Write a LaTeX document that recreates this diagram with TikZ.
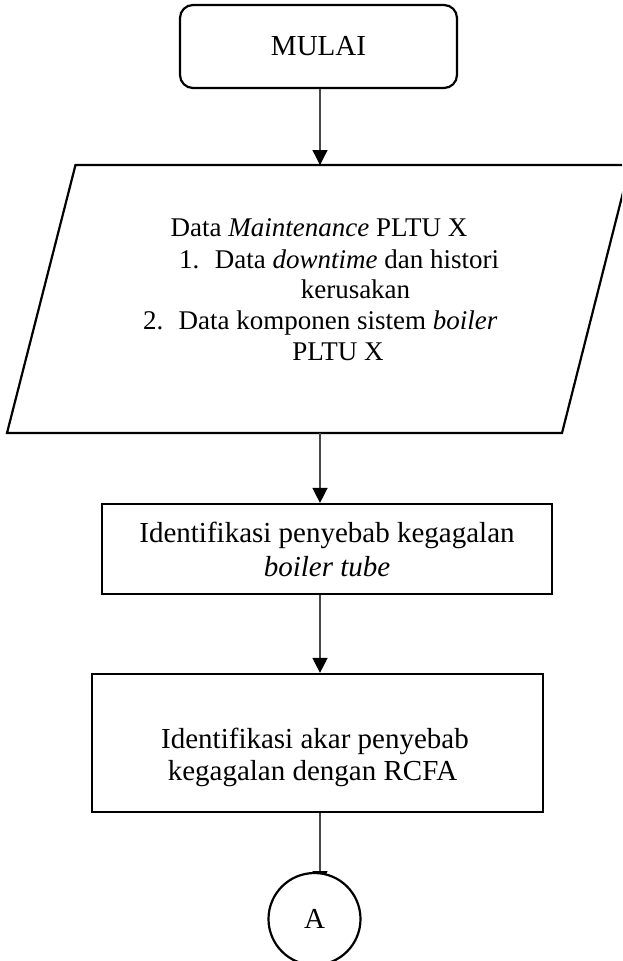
\documentclass[tikz,border=0pt]{standalone}
\usepackage{fontspec}
\setmainfont{Liberation Serif}
\usetikzlibrary{arrows.meta}
\begin{document}
\begin{tikzpicture}[x=1pt,y=-1pt,
  outline/.style={draw=black, line width=2.2pt},
  flow/.style={draw=black!72, line width=1.4pt,
    -{Triangle[length=15pt,width=15pt,color=black]}},
  big/.style={font=\fontsize{29}{34}\selectfont, inner sep=0pt},
  small/.style={font=\fontsize{27}{31}\selectfont, inner sep=0pt},
]
\useasboundingbox (0,0) rectangle (622,961);
\clip (0,0) rectangle (622,961);

% vertical axis shared by all connectors
\coordinate (axis) at (320,0);

% start terminal
\node[outline, big, rounded corners=13pt, minimum width=277pt,
      minimum height=83pt] (start) at (318.5,46.5) {MULAI};

% input data (parallelogram)
\coordinate (pTL) at (75.5,165);
\coordinate (pTR) at (630,165);
\coordinate (pBR) at (562,433);
\coordinate (pBL) at (7,433);
\draw[outline] (pTL) -- (pTR) -- (pBR) -- (pBL) -- cycle;
\coordinate (dataIn) at (320,165);
\coordinate (dataOut) at (320,433);

\node[small, anchor=base] (d0) at (319,236) {Data \textit{Maintenance} PLTU X};
\node[small, anchor=base west] (n1) at (179,268) {1.};
\node[small, anchor=base] (d1a) at (357,268) {Data \textit{downtime} dan histori};
\node[small, anchor=base] (d1b) at (355.5,298) {kerusakan};
\node[small, anchor=base west] (n2) at (143,329) {2.};
\node[small, anchor=base] (d2a) at (338,329) {Data komponen sistem \textit{boiler}};
\node[small, anchor=base] (d2b) at (338,360) {PLTU X};

% process: failure causes
\node[outline, big, align=center, minimum width=450pt,
      minimum height=90pt] (ident) at (327,549)
      {Identifikasi penyebab kegagalan\\\textit{boiler tube}};

% process: root cause analysis
\node[outline, minimum width=451pt, minimum height=138pt] (rcfa) at (317.5,743) {};
\node[big, anchor=base] (r1) at (315,748) {Identifikasi akar penyebab};
\node[big, anchor=base] (r2) at (312.5,780) {kegagalan dengan RCFA};

% connectors
\coordinate (aTip) at (320,886);
\draw[flow] (start.south -| axis) -- (dataIn);
\draw[flow] (dataOut) -- (ident.north -| axis);
\draw[flow] (ident.south -| axis) -- (rcfa.north -| axis);
\draw[flow] (rcfa.south -| axis) -- (aTip);

% off-page connector
\node[outline, big, circle, fill=white, minimum size=92pt] (conA) at (314.5,919) {A};
\end{tikzpicture}
\end{document}
